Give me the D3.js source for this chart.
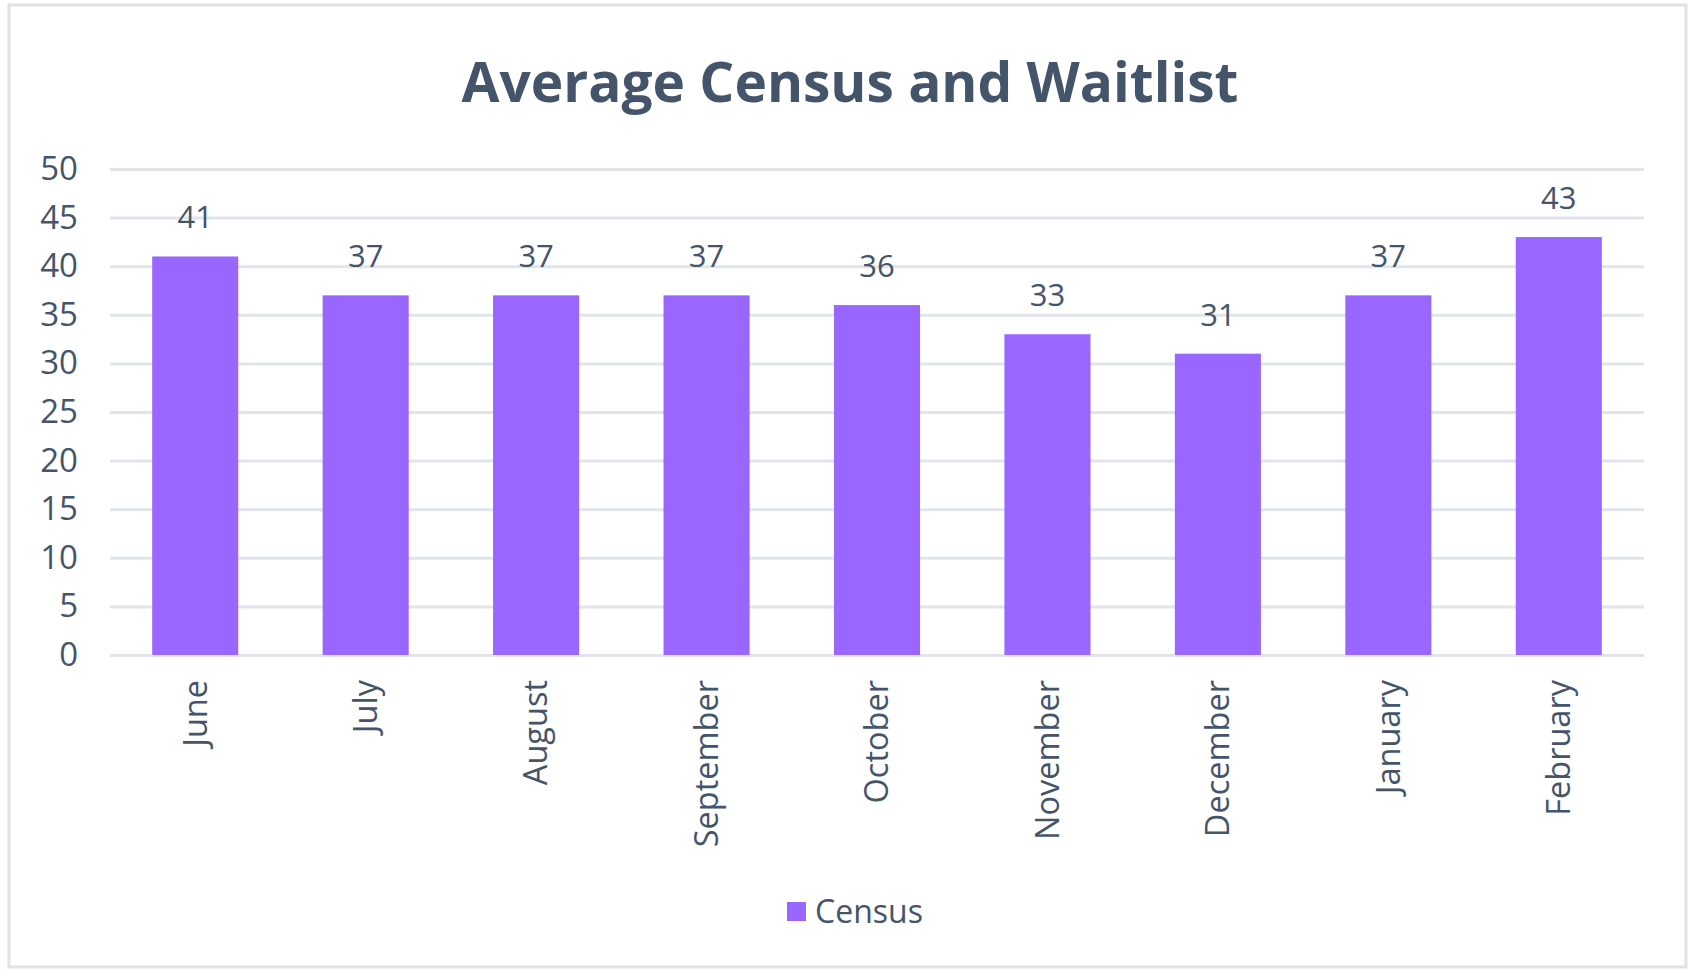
<!DOCTYPE html>
<html>
<head>
<meta charset="utf-8">
<script src="https://cdn.jsdelivr.net/npm/d3@7"></script>
<style>
  body { margin: 0; background: #fff; }
  svg { display: block; font-family: "Open Sans", sans-serif; }
</style>
</head>
<body>
<svg id="chart"></svg>
<script>
const WIDTH = 1690;
const HEIGHT = 969;

const months = ["June", "July", "August", "September", "October", "November", "December", "January", "February"];
const census = [41, 37, 37, 37, 36, 33, 31, 37, 43];
const yTicks = [0, 5, 10, 15, 20, 25, 30, 35, 40, 45, 50];

const TEXT = "#44546a";
const BAR = "#9966ff";
const GRID = "#e1e5eb";

const margin = { top: 169, right: 46, bottom: 314, left: 110 };

const svg = d3.select("#chart").attr("width", WIDTH).attr("height", HEIGHT);

// outer frame like the excel chart area
svg.append("rect")
    .attr("x", 9).attr("y", 5)
    .attr("width", 1677).attr("height", 962)
    .attr("fill", "#fff")
    .attr("stroke", "#dfe3e8")
    .attr("stroke-width", 3);

const x = d3.scaleBand()
    .domain(months)
    .range([margin.left, WIDTH - margin.right])
    .paddingInner(0.495)
    .paddingOuter(0.2475);

const y = d3.scaleLinear()
    .domain([0, 50])
    .range([HEIGHT - margin.bottom, margin.top]);

// gridlines + tick labels
const yAxis = d3.axisLeft(y)
    .tickValues(yTicks)
    .tickSize(-(WIDTH - margin.left - margin.right))
    .tickPadding(32);

svg.append("g")
    .attr("transform", `translate(${margin.left},0)`)
    .call(yAxis)
    .call(g => g.select(".domain").remove())
    .call(g => g.selectAll(".tick line").attr("stroke", GRID).attr("stroke-width", 3))
    .call(g => g.selectAll(".tick text")
        .attr("fill", TEXT)
        .attr("font-size", 33)
        .attr("font-family", "Open Sans, sans-serif"));

svg.append("text")
    .attr("x", 850).attr("y", 102)
    .attr("text-anchor", "middle")
    .attr("fill", TEXT)
    .attr("font-size", 55)
    .attr("font-weight", "bold")
    .text("Average Census and Waitlist");

svg.append("g")
    .selectAll("rect")
    .data(census)
    .join("rect")
    .attr("x", (d, i) => x(months[i]))
    .attr("y", d => y(d))
    .attr("width", x.bandwidth())
    .attr("height", d => y(0) - y(d))
    .attr("fill", BAR);

// value labels above bars
svg.append("g")
    .selectAll("text")
    .data(census)
    .join("text")
    .attr("x", (d, i) => x(months[i]) + x.bandwidth() / 2)
    .attr("y", d => y(d) - 28)
    .attr("text-anchor", "middle")
    .attr("fill", TEXT)
    .attr("font-size", 31)
    .text(d => d);

// rotated month labels
svg.append("g")
    .selectAll("text")
    .data(months)
    .join("text")
    .attr("transform", d => `translate(${x(d) + x.bandwidth() / 2},${y(0) + 25}) rotate(-90)`)
    .attr("text-anchor", "end")
    .attr("dy", "0.35em")
    .attr("fill", TEXT)
    .attr("font-size", 32.5)
    .text(d => d);

// legend
const legend = svg.append("g").attr("transform", "translate(787,912)");
legend.append("rect")
    .attr("x", 0).attr("y", -10)
    .attr("width", 19).attr("height", 19)
    .attr("fill", BAR);
legend.append("text")
    .attr("x", 28).attr("dy", "0.35em")
    .attr("fill", TEXT)
    .attr("font-size", 32)
    .text("Census");
</script>
</body>
</html>
